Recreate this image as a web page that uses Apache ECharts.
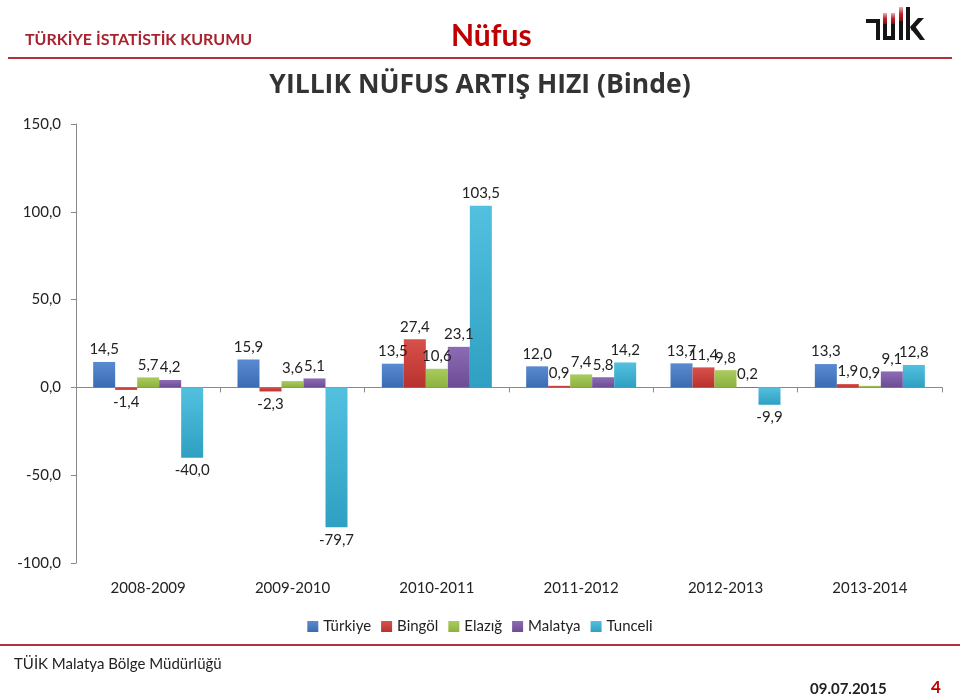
<!DOCTYPE html>
<html><head><meta charset="utf-8">
<script src="https://cdn.jsdelivr.net/npm/echarts@6/dist/echarts.min.js"></script>
<style>html,body{margin:0;padding:0;background:#fff}#c{width:960px;height:696px}</style>
</head><body><div id="c"></div>
<script>
const categories = ['2008-2009','2009-2010','2010-2011','2011-2012','2012-2013','2013-2014'];
const seriesNames = ['Türkiye','Bingöl','Elazığ','Malatya','Tunceli'];
const turkiye = [14.5, 15.9, 13.5, 12.0, 13.7, 13.3];
const bingol  = [-1.4, -2.3, 27.4, 0.9, 11.4, 1.9];
const elazig  = [5.7, 3.6, 10.6, 7.4, 9.8, 0.9];
const malatya = [4.2, 5.1, 23.1, 5.8, 0.2, 9.1];
const tunceli = [-40.0, -79.7, 103.5, 14.2, -9.9, 12.8];
const yTicks = [-100, -50, 0, 50, 100, 150];

const values = [turkiye, bingol, elazig, malatya, tunceli];
const colors = [['#5a8ad0','#3b6cb3'],['#d9504c','#b7322e'],['#a9cc5f','#8db13f'],['#8e6bb5','#6c4c95'],['#53c0df','#2fa0c2']];
const legendColors = ['#4a7ebb','#be4b48','#98b954','#7d60a0','#46aac5'];
const fmt = v => v.toFixed(1).replace('.', ',');
const FONT = 'Lato';

const chart = echarts.init(document.getElementById('c'));
const series = values.map((arr, i) => ({
  name: seriesNames[i],
  type: 'bar',
  barWidth: 22,
  barGap: '0%',
  itemStyle: { color: new echarts.graphic.LinearGradient(0,0,0,1,[{offset:0,color:colors[i][0]},{offset:1,color:colors[i][1]}]) },
  label: { show: true, formatter: p => fmt(p.value), fontFamily: FONT, fontSize: 15, color: '#222', distance: 5 },
  data: arr.map(v => ({ value: v, label: { position: v < 0 ? 'bottom' : 'top' } }))
}));

const blk = '#151515';
const red = new echarts.graphic.LinearGradient(0,0,0,1,[{offset:0,color:'#e8b0b4'},{offset:0.5,color:'#c0202c'},{offset:1,color:'#7a1118'}]);

chart.setOption({
  animation: false,
  textStyle: { fontFamily: FONT },
  color: legendColors,
  grid: { left: 76, right: 18, top: 124, bottom: 133, containLabel: false },
  legend: {
    bottom: 57, left: 'center', itemWidth: 11, itemHeight: 11, itemGap: 10,
    icon: 'rect', textStyle: { fontFamily: FONT, fontSize: 15, color: '#222' },
    data: seriesNames
  },
  xAxis: [
    { type: 'category', data: categories,
      axisLine: { onZero: true, lineStyle: { color: '#8a8a8a', width: 1 } },
      axisTick: { show: true, length: 5, lineStyle: { color: '#8a8a8a' } },
      axisLabel: { show: false } },
    { type: 'category', data: categories, position: 'bottom',
      axisLine: { show: false, onZero: false }, axisTick: { show: false },
      axisLabel: { show: true, margin: 18, fontFamily: FONT, fontSize: 15, color: '#222' } }
  ],
  yAxis: {
    type: 'value', min: -100, max: 150, interval: 50,
    splitLine: { show: false },
    axisLine: { show: true, lineStyle: { color: '#8a8a8a' } },
    axisTick: { show: true, length: 5, lineStyle: { color: '#8a8a8a' } },
    axisLabel: { formatter: v => fmt(v), fontFamily: FONT, fontSize: 15, color: '#222', margin: 15 }
  },
  series: series,
  graphic: [
    { type: 'text', left: 25, top: 32, style: { text: 'TÜRKİYE İSTATİSTİK KURUMU', fontFamily: FONT, fontWeight: 'bold', fontSize: 16, fill: '#a8232e' } },
    { type: 'text', left: 451, top: 21, style: { text: 'Nüfus', fontFamily: FONT, fontWeight: 'bold', fontSize: 30, fill: '#c00000' } },
    { type: 'group', children: [
      { type: 'rect', shape: { x: 866, y: 19, width: 13, height: 4 }, style: { fill: blk } },
      { type: 'rect', shape: { x: 876, y: 19, width: 4, height: 21 }, style: { fill: blk } },
      { type: 'rect', shape: { x: 883, y: 13, width: 4, height: 11 }, style: { fill: red } },
      { type: 'rect', shape: { x: 883, y: 24, width: 4, height: 16 }, style: { fill: blk } },
      { type: 'rect', shape: { x: 891, y: 13, width: 4, height: 11 }, style: { fill: red } },
      { type: 'rect', shape: { x: 891, y: 24, width: 4, height: 16 }, style: { fill: blk } },
      { type: 'rect', shape: { x: 883, y: 36, width: 12, height: 4 }, style: { fill: blk } },
      { type: 'rect', shape: { x: 899, y: 7, width: 4, height: 14 }, style: { fill: red } },
      { type: 'rect', shape: { x: 899, y: 21, width: 4, height: 19 }, style: { fill: blk } },
      { type: 'rect', shape: { x: 906, y: 7, width: 4, height: 33 }, style: { fill: blk } },
      { type: 'polygon', shape: { points: [[910,27],[918,18],[924,18],[912,31]] }, style: { fill: blk } },
      { type: 'polygon', shape: { points: [[911,29],[915,26],[925,40],[920,40]] }, style: { fill: blk } }
    ] },
    { type: 'rect', shape: { x: 8, y: 57, width: 944, height: 2 }, style: { fill: '#b3303c' } },
    { type: 'text', left: 'center', top: 72, style: { text: 'YILLIK NÜFUS ARTIŞ HIZI (Binde)', fontFamily: 'Open Sans', fontWeight: 'bold', fontSize: 26.5, fill: '#333' } },
    { type: 'rect', shape: { x: 0, y: 644, width: 960, height: 2 }, style: { fill: '#b3303c' } },
    { type: 'text', left: 14, top: 657, style: { text: 'TÜİK Malatya Bölge Müdürlüğü', fontFamily: FONT, fontSize: 15, fill: '#222' } },
    { type: 'text', left: 810, top: 682, style: { text: '09.07.2015', fontFamily: FONT, fontWeight: 'bold', fontSize: 15, fill: '#222' } },
    { type: 'text', left: 931, top: 679, style: { text: '4', fontFamily: FONT, fontWeight: 'bold', fontSize: 17, fill: '#c00000' } }
  ]
});
</script></body></html>
